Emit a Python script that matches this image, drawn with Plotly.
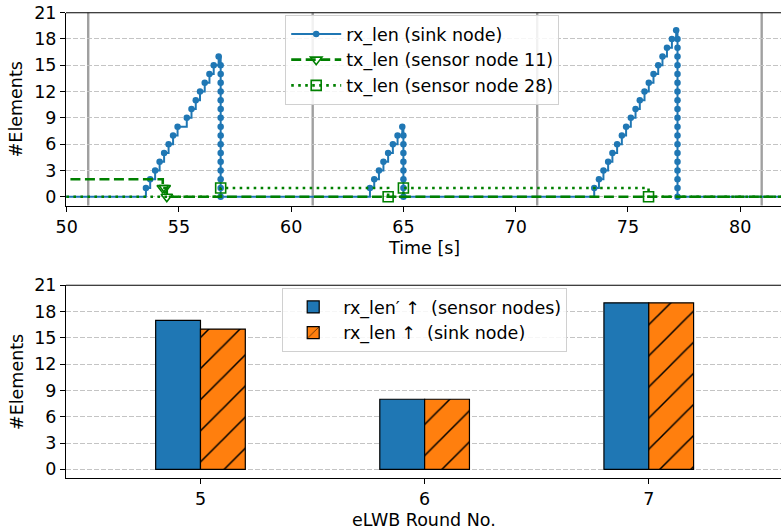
import plotly.graph_objects as go

# ---- queue length traces (seconds / number of elements) ----
rx_time = [45.0,
           53.53, 53.72, 53.94, 54.14, 54.34, 54.54, 54.74, 54.94,
           55.35, 55.56, 55.75, 55.94, 56.15, 56.36, 56.55, 56.77,
           56.86, 56.86, 56.86, 56.86, 56.86, 56.86, 56.86, 56.86,
           56.86, 56.86, 56.86, 56.86, 56.86, 56.86, 56.86, 56.86,
           63.51, 63.70, 63.91, 64.11, 64.32, 64.53, 64.74, 64.95,
           65.00, 65.00, 65.00, 65.00, 65.00, 65.00, 65.00, 65.00,
           73.50, 73.71, 73.91, 74.12, 74.31, 74.52, 74.73, 74.92,
           75.13, 75.34, 75.53, 75.74, 75.93, 76.14, 76.35, 76.54,
           76.74, 76.96, 77.15,
           77.21, 77.21, 77.21, 77.21, 77.21, 77.21, 77.21, 77.21,
           77.21, 77.21, 77.21, 77.21, 77.21, 77.21, 77.21, 77.21,
           77.21, 77.21, 77.21,
           85.0]
rx_len = [0,
          1, 2, 3, 4, 5, 6, 7, 8,
          9, 10, 11, 12, 13, 14, 15, 16,
          15, 14, 13, 12, 11, 10, 9, 8,
          7, 6, 5, 4, 3, 2, 1, 0,
          1, 2, 3, 4, 5, 6, 7, 8,
          7, 6, 5, 4, 3, 2, 1, 0,
          1, 2, 3, 4, 5, 6, 7, 8,
          9, 10, 11, 12, 13, 14, 15, 16,
          17, 18, 19,
          18, 17, 16, 15, 14, 13, 12, 11,
          10, 9, 8, 7, 6, 5, 4, 3,
          2, 1, 0,
          0]

tx11_time = [45.0, 54.28, 54.37, 54.46, 85.0]
tx11_len = [2, 1, 1, 0, 0]

tx28_time = [45.0, 56.86, 64.32, 65.00, 75.92, 85.0]
tx28_len = [0, 1, 0, 1, 0, 0]

round_starts = [50.96, 60.96, 70.96, 80.96]

# ---- per-round received elements ----
rounds = [5, 6, 7]
rx_len_sensor = [17, 8, 19]
rx_len_sink = [16, 8, 19]

y_ticks = [0, 3, 6, 9, 12, 15, 18, 21]
time_ticks = [50, 55, 60, 65, 70, 75, 80]

BLUE = "#1f77b4"
ORANGE = "#ff7f0e"
GREEN = "#008000"
FONT = "DejaVu Sans"
FS = 17.5

W, H = 781, 532
ML = 65.7
top_dom = [1 - 205.5 / H, 1 - 12.7 / H]
bot_dom = [1 - 478.1 / H, 1 - 285.3 / H]

fig = go.Figure()

fig.add_trace(go.Scatter(
    x=rx_time, y=rx_len, name="rx_len (sink node)", mode="lines+markers",
    line=dict(color=BLUE, width=2, shape="hv"),
    marker=dict(color=BLUE, size=6.5, symbol="circle"),
    xaxis="x", yaxis="y", legend="legend"))
fig.add_trace(go.Scatter(
    x=tx11_time, y=tx11_len, name="tx_len (sensor node 11)", mode="lines+markers",
    line=dict(color=GREEN, width=2.6, shape="hv", dash="10px,4.5px"),
    marker=dict(color=GREEN, size=10, symbol="triangle-down-open", line=dict(width=1.6)),
    xaxis="x", yaxis="y", legend="legend"))
fig.add_trace(go.Scatter(
    x=tx28_time, y=tx28_len, name="tx_len (sensor node 28)", mode="lines+markers",
    line=dict(color=GREEN, width=2.6, shape="hv", dash="2.6px,4.4px"),
    marker=dict(color=GREEN, size=10, symbol="square-open", line=dict(width=1.6)),
    xaxis="x", yaxis="y", legend="legend"))

fig.add_trace(go.Bar(
    x=rounds, y=rx_len_sensor, name="rx_len\u2032 \u2191\u00a0 (sensor nodes)",
    width=0.2, offset=-0.2,
    marker=dict(color=BLUE, line=dict(color="black", width=1.2)),
    xaxis="x2", yaxis="y2", legend="legend2"))
fig.add_trace(go.Bar(
    x=rounds, y=rx_len_sink, name="rx_len \u2191\u00a0 (sink node)",
    width=0.2, offset=0.0,
    marker=dict(color=ORANGE, line=dict(color="black", width=1.2),
                pattern=dict(shape="/", fgcolor="black", bgcolor=ORANGE,
                             size=22, solidity=0.07, fillmode="replace")),
    xaxis="x2", yaxis="y2", legend="legend2"))

# round boundaries
shapes = []
for t in round_starts:
    shapes.append(dict(type="line", xref="x", yref="paper", x0=t, x1=t,
                       y0=top_dom[0], y1=top_dom[1],
                       line=dict(color="rgba(128,128,128,0.75)", width=2.4), layer="below"))
# top spines
for dom in (top_dom, bot_dom):
    shapes.append(dict(type="line", xref="paper", yref="paper", x0=0, x1=1.01,
                       y0=dom[1], y1=dom[1], line=dict(color="black", width=1.1)))

axis_common = dict(showline=True, linecolor="black", linewidth=1.1, ticks="outside",
                   ticklen=5, tickcolor="black", tickwidth=1.1, zeroline=False,
                   tickfont=dict(family=FONT, size=FS, color="black"), automargin=False)
ygrid = dict(showgrid=True, gridcolor="#c4c4c4", griddash="4.5px,2.5px", gridwidth=1)

fig.update_layout(
    width=W, height=H,
    margin=dict(l=ML, r=0, t=0, b=0),
    paper_bgcolor="white", plot_bgcolor="white",
    font=dict(family=FONT, size=FS, color="black"),
    barmode="overlay",
    xaxis=dict(domain=[0, 1], anchor="y", range=[49.97, 81.82], tickvals=time_ticks,
               showgrid=False, **axis_common),
    yaxis=dict(domain=top_dom, anchor="x", range=[-1, 21], tickvals=y_ticks,
               **ygrid, **axis_common),
    xaxis2=dict(domain=[0, 1], anchor="y2", range=[4.4, 7.59], tickvals=rounds,
                showgrid=False, **axis_common),
    yaxis2=dict(domain=bot_dom, anchor="x2", range=[-1, 21], tickvals=y_ticks,
                **ygrid, **axis_common),
    legend=dict(x=(285 - ML) / (W - ML), y=1 - 15 / H, xanchor="left", yanchor="top",
                bgcolor="rgba(255,255,255,0.85)", bordercolor="#d0d0d0", borderwidth=1,
                font=dict(family=FONT, size=FS, color="black"), tracegroupgap=0,
                itemwidth=50),
    legend2=dict(x=(282 - ML) / (W - ML), y=1 - 288 / H, xanchor="left", yanchor="top",
                 bgcolor="rgba(255,255,255,0.85)", bordercolor="#d0d0d0", borderwidth=1,
                 font=dict(family=FONT, size=FS, color="black"), tracegroupgap=0,
                 itemwidth=50),
    shapes=shapes,
    annotations=[
        dict(text="#Elements", xref="paper", yref="paper", x=(16 - ML) / (W - ML),
             y=1 - 109 / H, textangle=-90, showarrow=False, xanchor="center", yanchor="middle",
             font=dict(family=FONT, size=FS, color="black")),
        dict(text="#Elements", xref="paper", yref="paper", x=(16 - ML) / (W - ML),
             y=1 - 381.7 / H, textangle=-90, showarrow=False, xanchor="center", yanchor="middle",
             font=dict(family=FONT, size=FS, color="black")),
        dict(text="Time [s]", xref="paper", yref="paper", x=(424 - ML) / (W - ML),
             y=1 - 248 / H, showarrow=False, xanchor="center", yanchor="middle",
             font=dict(family=FONT, size=FS, color="black")),
        dict(text="eLWB Round No.", xref="paper", yref="paper", x=(424 - ML) / (W - ML),
             y=1 - 520 / H, showarrow=False, xanchor="center", yanchor="middle",
             font=dict(family=FONT, size=FS, color="black")),
    ],
)

fig.write_html("out.html")
